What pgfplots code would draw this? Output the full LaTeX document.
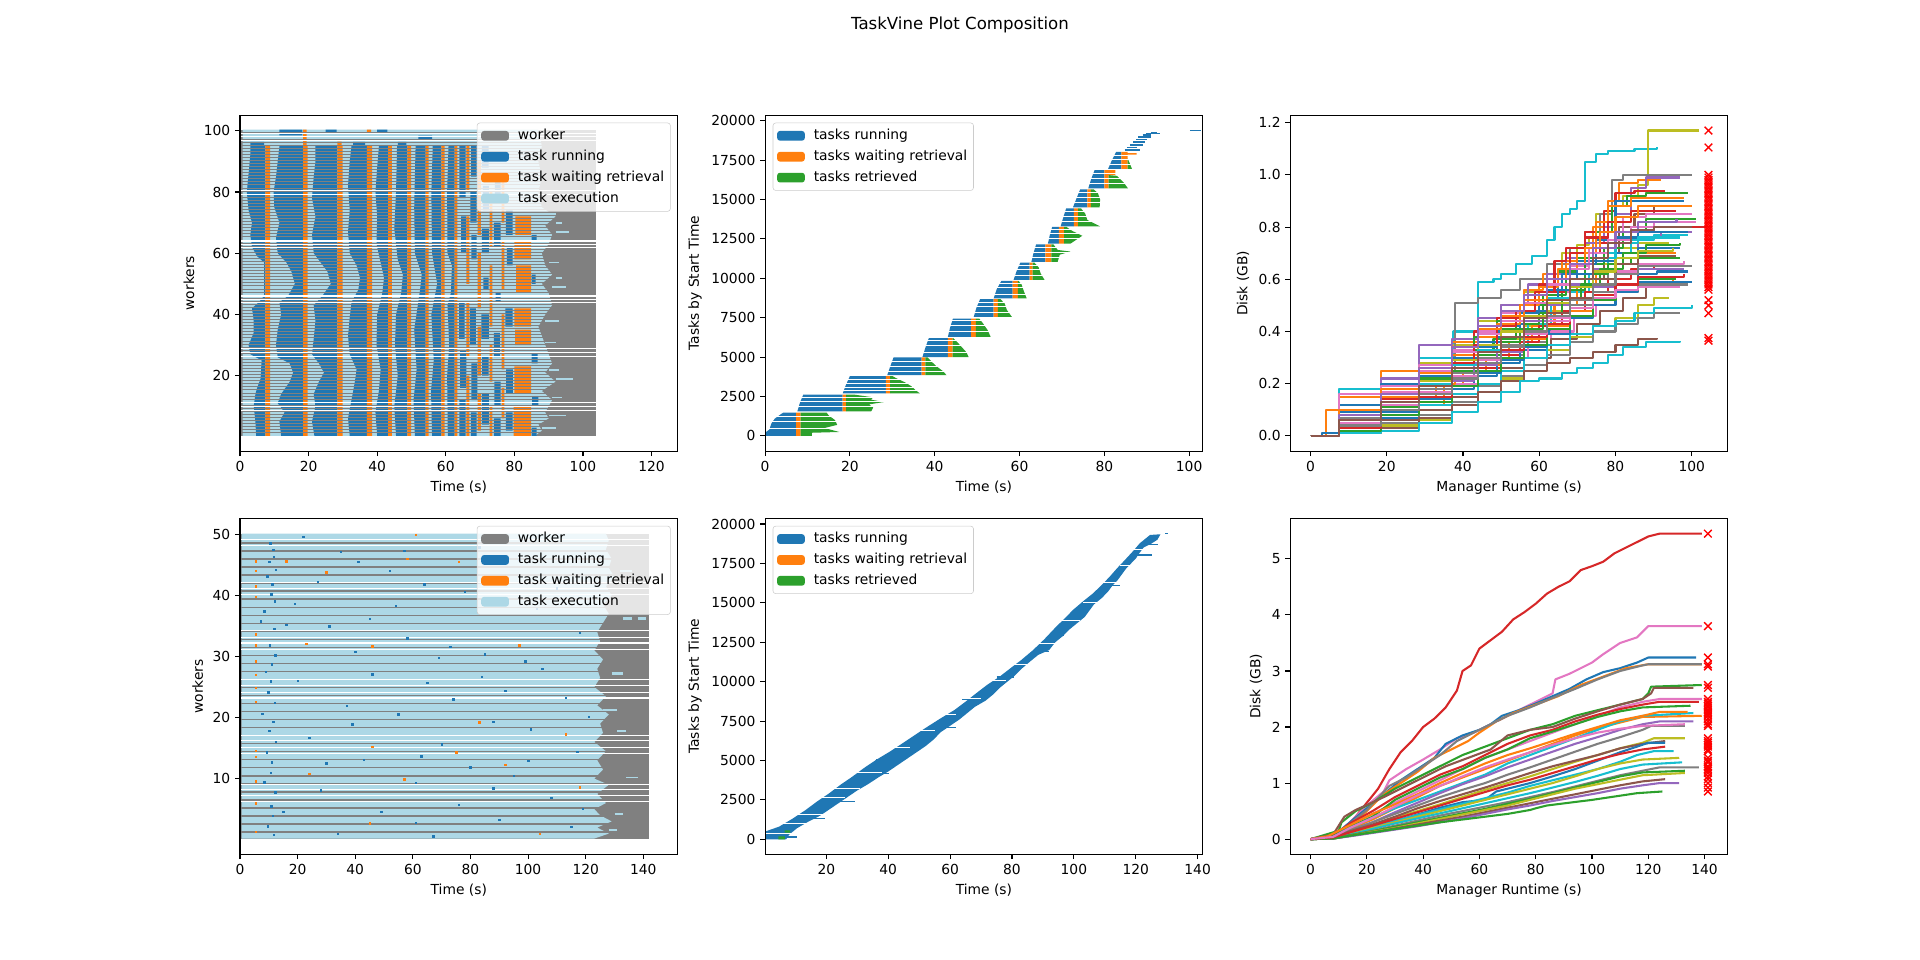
\documentclass[border=0pt]{standalone}
\usepackage{fontspec}
\setmainfont{DejaVu Sans}
\usepackage{pgfplots}
\pgfplotsset{compat=1.18}
\definecolor{C0}{HTML}{1F77B4}
\definecolor{C1}{HTML}{FF7F0E}
\definecolor{C2}{HTML}{2CA02C}
\definecolor{C3}{HTML}{D62728}
\definecolor{C4}{HTML}{9467BD}
\definecolor{C5}{HTML}{8C564B}
\definecolor{C6}{HTML}{E377C2}
\definecolor{C7}{HTML}{7F7F7F}
\definecolor{C8}{HTML}{BCBD22}
\definecolor{C9}{HTML}{17BECF}
\definecolor{wgrey}{HTML}{808080}
\definecolor{lblue}{HTML}{ADD8E6}
\pgfplotsset{
  every axis/.append style={
    scale only axis, width=4.376in, height=3.36in, anchor=south west,
    axis on top, tick align=outside, major tick length=3.5pt,
    xtick pos=lower, ytick pos=left,
    tick style={black, line width=0.8pt},
    axis line style={line width=0.8pt},
    tick label style={font=\fontsize{10}{12}\selectfont},
    label style={font=\fontsize{10}{12}\selectfont},
    /pgf/number format/assume math mode=true,
    /pgf/number format/1000 sep={},
    scaled ticks=false,
    unbounded coords=jump,
  },
  legend image code/.code={\path[#1, fill opacity=1] (0pt,-3.5pt) rectangle (20pt,3.5pt);},
  legend cell align=left,
  mpllegend/.style={legend style={draw=black!20, fill=white, fill opacity=0.8, text opacity=1, rounded corners=2pt, font=\fontsize{10}{12}\selectfont, inner xsep=3pt, inner ysep=3pt, row sep=2.5pt, nodes={inner sep=1.5pt, text height=7.6pt, text depth=2pt}, /tikz/every odd column/.append style={column sep=5pt}}},
  blk/.style={fill=#1, draw=none, forget plot},
  tl/.style={#1, line width=1.5pt, const plot, line join=round},
  bl/.style={#1, line width=1.5pt, line join=round},
  redx/.style={only marks, mark=x, mark size=3.9pt, draw=red, line width=1pt},
}
\begin{document}
\begin{tikzpicture}
\path[use as bounding box] (0in,0in) rectangle (19.2in,9.6in);
\node[font=\fontsize{12}{14}\selectfont] at (9.6in,9.355in) {TaskVine Plot Composition};

%================ TOP LEFT: workers ================
\begin{axis}[at={(2.4in,5.088in)}, xmin=0, xmax=127.6, ymin=-4.7, ymax=105.1,
  xtick={0,20,...,120}, ytick={20,40,...,100}, xlabel={Time (s)}, ylabel={workers},
  mpllegend, legend style={at={(1,1)}, anchor=north east, xshift=-5pt, yshift=-5.4pt}]
\addplot[blk=wgrey] coordinates {(0.05,0.3) (103.9,0.3) (103.9,100.4) (0.05,100.4)};
\addplot[blk=lblue] coordinates {(0.8,0.3) (86,0.3) (88,2) (87,4) (90,6) (89,8) (91,12) (88,15) (92,18) (89,21) (91,24) (90,27) (89,30) (88,33) (87,36) (89,40) (91,43) (90,47) (88,50) (91,53) (89,56) (88,60) (90,63) (91,66) (89,69) (92,72) (88,75) (87,80) (88,85) (87,90) (88,95) (87,100.4) (0.8,100.4)};
\addplot[draw=lblue, line width=1.6pt, forget plot] coordinates {(88,3) (92,3) (nan,nan) (90,7) (95,7) (nan,nan) (91,13) (94,13) (nan,nan) (92,19) (97,19) (nan,nan) (90,22) (93,22) (nan,nan) (89,31) (92,31) (nan,nan) (89,38) (93,38) (nan,nan) (90,45) (96,45) (nan,nan) (91,49) (95,49) (nan,nan) (92,52) (94,52) (nan,nan) (90,57) (93,57) (nan,nan) (91,64) (95,64) (nan,nan) (92,67) (96,67) (nan,nan) (92,70) (94,70) (nan,nan) (89,73) (92,73)};
% blue bands
\addplot[blk=C0] coordinates {(4.7,0.3) (4.5,5) (4.0,10) (4.5,14) (5.0,16) (6.0,19) (6.3,25) (3.0,27) (2.5,30) (4.0,34) (4.0,38) (3.5,42) (5.5,44) (7.0,46) (7.0,57) (5.0,59) (3.5,62) (3.0,66) (3.5,70) (2.5,74) (2.0,80) (2.5,86) (3.0,92) (3.0,95) (7.4,95) (7.4,0.3)
 (nan,nan) (12,0.3) (11.5,5) (13,8) (11,11) (12,14) (14.5,18) (15.5,21) (14.5,24) (11,26) (10.5,30) (11,35) (12,40) (11.5,44) (14,46) (16,50) (15,54) (13.5,57) (11,60) (10.5,65) (11.5,70) (10,75) (9.8,80) (10.5,85) (11,90) (11.5,95) (18.4,95) (18.4,0.3)
 (nan,nan) (21.7,0.3) (21,5) (22,10) (21.5,14) (23,18) (24.5,21) (23,24) (21,27) (21.5,32) (22,38) (21.5,43) (24,46) (26.5,50) (25.5,54) (23.5,57) (21.5,60) (21,66) (22,72) (21,78) (21.5,85) (22,90) (22,95) (28.4,95) (28.4,0.3)
 (nan,nan) (32,0.3) (31.5,6) (32.5,12) (33.5,18) (34,22) (32,27) (31.5,33) (32,39) (32.5,44) (34.5,48) (35,52) (34,56) (32,60) (31.5,67) (32,74) (31.5,82) (32,90) (32.5,95) (37,95) (37,0.3)
 (nan,nan) (40,0.3) (39.5,8) (40.5,15) (41,22) (39.8,30) (40,40) (41.5,47) (42,52) (41,57) (39.8,63) (40,72) (39.5,80) (40,88) (40.5,95) (43.2,95) (43.2,0.3)
 (nan,nan) (45.5,0.3) (45,10) (46,20) (45.2,30) (45.5,40) (47,47) (47.5,53) (46,58) (45,68) (45.5,80) (45.8,95) (48.8,95) (48.8,0.3)
 (nan,nan) (51,0.3) (50.6,12) (51.5,22) (50.8,35) (52.5,48) (53,53) (51,60) (50.8,75) (51.2,95) (54.1,95) (54.1,0.3)
 (nan,nan) (56,0.3) (55.7,15) (56.5,25) (55.8,40) (57.5,50) (56,60) (55.8,80) (56.2,95) (58.7,95) (58.7,0.3)
 (nan,nan) (60.6,0.3) (60.4,20) (61,30) (60.5,43) (61.5,47) (61.8,56) (60.5,60) (60.4,80) (60.8,95) (62.6,95) (62.6,0.3)};
% blue fragments
\addplot[blk=C0] coordinates {
 (64.0,0.3) (65.8,0.3) (65.8,12) (64.0,12) (nan,nan) (64.2,16) (66.0,16) (66.0,28) (64.2,28) (nan,nan) (63.9,32) (65.5,32) (65.5,44) (63.9,44) (nan,nan) (64.5,60) (66.0,60) (66.0,72) (64.5,72) (nan,nan) (64.0,78) (65.8,78) (65.8,95) (64.0,95) (nan,nan)
 (67.3,0.3) (69.0,0.3) (69.0,8) (67.3,8) (nan,nan) (67.5,12) (69.2,12) (69.2,24) (67.5,24) (nan,nan) (67.0,30) (68.8,30) (68.8,42) (67.0,42) (nan,nan) (67.5,58) (69.0,58) (69.0,66) (67.5,66) (nan,nan) (67.2,70) (69.0,70) (69.0,80) (67.2,80) (nan,nan) (67.4,85) (69.0,85) (69.0,95) (67.4,95) (nan,nan)
 (70.5,4) (72.6,4) (72.6,14) (70.5,14) (nan,nan) (70.6,20) (72.5,20) (72.5,26) (70.6,26) (nan,nan) (70.4,32) (72.6,32) (72.6,40) (70.4,40) (nan,nan) (71.0,48) (72.5,48) (72.5,52) (71.0,52) (nan,nan) (70.5,60) (72.6,60) (72.6,68) (70.5,68) (nan,nan) (70.8,74) (72.6,74) (72.6,82) (70.8,82) (nan,nan) (70.5,88) (72.5,88) (72.5,95) (70.5,95) (nan,nan)
 (74.0,0.3) (76.0,0.3) (76.0,6) (74.0,6) (nan,nan) (74.2,10) (76.0,10) (76.0,18) (74.2,18) (nan,nan) (74.0,26) (75.8,26) (75.8,34) (74.0,34) (nan,nan) (74.5,44) (76.0,44) (76.0,47) (74.5,47) (nan,nan) (74.0,62) (76.0,62) (76.0,70) (74.0,70) (nan,nan) (74.3,78) (76.0,78) (76.0,86) (74.3,86) (nan,nan)
 (77.5,2) (79.5,2) (79.5,8) (77.5,8) (nan,nan) (77.6,14) (79.6,14) (79.6,22) (77.6,22) (nan,nan) (77.4,36) (79.5,36) (79.5,42) (77.4,42) (nan,nan) (77.8,56) (79.5,56) (79.5,62) (77.8,62) (nan,nan) (77.5,66) (79.5,66) (79.5,74) (77.5,74) (nan,nan)
 (85.0,0.3) (86.5,0.3) (86.5,3) (85.0,3) (nan,nan) (85.2,10) (87.0,10) (87.0,13) (85.2,13) (nan,nan) (85.0,24) (86.8,24) (86.8,27) (85.0,27) (nan,nan) (85.0,50) (86.2,50) (86.2,53) (85.0,53) (nan,nan) (85.0,64) (86.5,64) (86.5,66) (85.0,66) (nan,nan)
 (11.5,98.5) (18.2,98.5) (18.2,100.4) (11.5,100.4) (nan,nan) (25,99.4) (28.2,99.4) (28.2,100.4) (25,100.4) (nan,nan) (40,99.4) (43,99.4) (43,100.4) (40,100.4) (nan,nan) (52,97.4) (56,97.4) (56,98.4) (52,98.4) (nan,nan) (33,95.4) (36.5,95.4) (36.5,96.4) (33,96.4) (nan,nan) (3,95.4) (7,95.4) (7,96.4) (3,96.4) (nan,nan) (46,95.4) (48.5,95.4) (48.5,96.4) (46,96.4)};
% orange
\addplot[blk=C1] coordinates {
 (7.4,0.3) (8.8,0.3) (8.8,95) (7.4,95) (nan,nan) (18.4,0.3) (19.7,0.3) (19.7,95) (18.4,95) (nan,nan) (28.4,0.3) (29.9,0.3) (29.9,95) (28.4,95) (nan,nan) (37.0,0.3) (38.5,0.3) (38.5,95) (37.0,95) (nan,nan) (43.2,0.3) (44.3,0.3) (44.3,95) (43.2,95) (nan,nan) (48.8,0.3) (49.9,0.3) (49.9,95) (48.8,95) (nan,nan) (54.1,0.3) (55.0,0.3) (55.0,95) (54.1,95) (nan,nan) (58.7,0.3) (59.7,0.3) (59.7,95) (58.7,95) (nan,nan) (62.6,0.3) (63.4,0.3) (63.4,95) (62.6,95) (nan,nan)
 (66.0,0.3) (66.9,0.3) (66.9,20) (66.0,20) (nan,nan) (66.0,26) (66.9,26) (66.9,44) (66.0,44) (nan,nan) (66.0,50) (66.9,50) (66.9,72) (66.0,72) (nan,nan) (66.0,80) (66.9,80) (66.9,95) (66.0,95) (nan,nan)
 (69.3,2) (70.2,2) (70.2,14) (69.3,14) (nan,nan) (69.3,20) (70.2,20) (70.2,36) (69.3,36) (nan,nan) (69.3,42) (70.2,42) (70.2,60) (69.3,60) (nan,nan) (69.3,66) (70.2,66) (70.2,90) (69.3,90) (nan,nan)
 (72.8,0.3) (73.6,0.3) (73.6,10) (72.8,10) (nan,nan) (72.8,18) (73.6,18) (73.6,30) (72.8,30) (nan,nan) (72.8,36) (73.6,36) (73.6,56) (72.8,56) (nan,nan) (72.8,62) (73.6,62) (73.6,80) (72.8,80) (nan,nan)
 (76.3,6) (77.1,6) (77.1,16) (76.3,16) (nan,nan) (76.3,22) (77.1,22) (77.1,40) (76.3,40) (nan,nan) (76.3,48) (77.1,48) (77.1,64) (76.3,64) (nan,nan) (76.3,70) (77.1,70) (77.1,86) (76.3,86) (nan,nan)
 (79.8,0.3) (84.9,0.3) (84.9,10) (79.8,10) (nan,nan) (80.0,14) (84.9,14) (84.9,23) (80.0,23) (nan,nan) (80.2,30) (84.9,30) (84.9,35) (80.2,35) (nan,nan) (80.0,36) (84.9,36) (84.9,42) (80.0,42) (nan,nan) (80.5,47) (84.9,47) (84.9,56) (80.5,56) (nan,nan) (80.0,58) (84.9,58) (84.9,64) (80.0,64) (nan,nan) (80.3,66) (84.9,66) (84.9,72) (80.3,72) (nan,nan)
 (18.4,95) (19.4,95) (19.4,100.4) (18.4,100.4) (nan,nan) (28.4,95) (29.6,95) (29.6,96.5) (28.4,96.5) (nan,nan) (37,99.4) (38.2,99.4) (38.2,100.4) (37,100.4)};
% row separators
\addplot[xcomb, draw=wgrey, line width=0.72pt, forget plot] coordinates {(103.9,1.3) (103.9,2.3) (103.9,3.3) (103.9,4.3) (103.9,5.3) (103.9,6.3) (103.9,7.3) (103.9,8.3) (103.9,9.3) (103.9,10.3) (103.9,11.3) (103.9,12.3) (103.9,13.3) (103.9,14.3) (103.9,15.3) (103.9,16.3) (103.9,17.3) (103.9,18.3) (103.9,19.3) (103.9,20.3) (103.9,21.3) (103.9,22.3) (103.9,23.3) (103.9,24.3) (103.9,25.3) (103.9,26.3) (103.9,27.3) (103.9,28.3) (103.9,29.3) (103.9,30.3) (103.9,31.3) (103.9,32.3) (103.9,33.3) (103.9,34.3) (103.9,35.3) (103.9,36.3) (103.9,37.3) (103.9,38.3) (103.9,39.3) (103.9,40.3) (103.9,41.3) (103.9,42.3) (103.9,43.3) (103.9,44.3) (103.9,45.3) (103.9,46.3) (103.9,47.3) (103.9,48.3) (103.9,49.3) (103.9,50.3) (103.9,51.3) (103.9,52.3) (103.9,53.3) (103.9,54.3) (103.9,55.3) (103.9,56.3) (103.9,57.3) (103.9,58.3) (103.9,59.3) (103.9,60.3) (103.9,61.3) (103.9,62.3) (103.9,63.3) (103.9,64.3) (103.9,65.3) (103.9,66.3) (103.9,67.3) (103.9,68.3) (103.9,69.3) (103.9,70.3) (103.9,71.3) (103.9,72.3) (103.9,73.3) (103.9,74.3) (103.9,75.3) (103.9,76.3) (103.9,77.3) (103.9,78.3) (103.9,79.3) (103.9,80.3) (103.9,81.3) (103.9,82.3) (103.9,83.3) (103.9,84.3) (103.9,85.3) (103.9,86.3) (103.9,87.3) (103.9,88.3) (103.9,89.3) (103.9,90.3) (103.9,91.3) (103.9,92.3) (103.9,93.3) (103.9,94.3) (103.9,95.3) (103.9,96.3) (103.9,97.3) (103.9,98.3) (103.9,99.3)};
\addplot[xcomb, draw=white, line width=0.8pt, forget plot] coordinates {(103.9,8.7) (103.9,10.0) (103.9,11.1) (103.9,26.3) (103.9,27.5) (103.9,28.9) (103.9,43.9) (103.9,44.9) (103.9,46.0) (103.9,61.8) (103.9,62.9) (103.9,64.0) (103.9,79.2) (103.9,80.6) (103.9,96.9) (103.9,98.0) (103.9,99.1)};
\addlegendimage{fill=wgrey, draw=none}\addlegendentry{worker}
\addlegendimage{fill=C0, draw=none}\addlegendentry{task running}
\addlegendimage{fill=C1, draw=none}\addlegendentry{task waiting retrieval}
\addlegendimage{fill=lblue, draw=none}\addlegendentry{task execution}
\end{axis}

%================ TOP MIDDLE: tasks ================
\begin{axis}[at={(7.651in,5.088in)}, xmin=0, xmax=103.2, ymin=-969, ymax=20350,
  xtick={0,20,...,100}, ytick={0,2500,5000,7500,10000,12500,15000,17500,20000},
  xlabel={Time (s)}, ylabel={Tasks by Start Time},
  mpllegend, legend style={at={(0,1)}, anchor=north west, xshift=5.5pt, yshift=-5.4pt}]
\addplot[blk=C0] coordinates {
 (0.2,0) (7.3,0) (7.3,1480) (4.3,1480) (3.3,1300) (2.3,1100) (1.5,800) (1.0,400) (0.2,250) (nan,nan)
 (7.6,1550) (18.3,1550) (18.3,2620) (9.0,2620) (8.2,2100) (nan,nan)
 (18.3,2700) (28.5,2700) (28.5,3800) (20.0,3800) (19.0,3200) (nan,nan)
 (28.8,3850) (36.9,3850) (36.9,4990) (30.3,4990) (29.5,4400) (nan,nan)
 (37.1,5000) (43.1,5000) (43.1,6200) (38.6,6200) (37.8,5600) (nan,nan)
 (43.1,6280) (48.6,6280) (48.6,7450) (44.3,7450) (43.6,6850) (nan,nan)
 (49.2,7550) (53.9,7550) (53.9,8680) (50.7,8680) (49.8,8100) (nan,nan)
 (53.9,8720) (58.4,8720) (58.4,9830) (55.7,9830) (54.6,9300) (nan,nan)
 (58.6,9900) (62.4,9900) (62.4,11000) (60.2,11000) (59.3,10450) (nan,nan)
 (62.8,11050) (66.1,11050) (66.1,12150) (63.9,12150) (63.3,11600) (nan,nan)
 (66.7,12200) (69.3,12200) (69.3,13270) (67.7,13270) (67.1,12700) (nan,nan)
 (69.7,13300) (72.8,13300) (72.8,14440) (71.0,14440) (70.3,13850) (nan,nan)
 (72.6,14500) (76.0,14500) (76.0,15640) (74.3,15640) (73.4,15050) (nan,nan)
 (76.2,15700) (80.0,15700) (80.0,16870) (77.7,16870) (76.9,16300) (nan,nan)
 (80.9,16950) (84.0,16950) (84.0,18030) (82.8,18030) (81.8,17500)};
\addplot[draw=C0, line width=1.1pt, forget plot] coordinates {(84.8,18150) (88.5,18150) (nan,nan) (85.3,18300) (87.8,18300) (nan,nan) (86,18450) (89,18450) (nan,nan) (86.8,18650) (89.5,18650) (nan,nan) (87.5,18800) (90,18800) (nan,nan) (88,18950) (91,18950) (nan,nan) (89,19100) (91,19100) (nan,nan) (89.8,19200) (93.1,19200) (nan,nan) (91,19260) (92.5,19260) (nan,nan) (100.2,19390) (102.7,19390)};
\addplot[blk=C1] coordinates {
 (7.3,0) (8.4,0) (8.4,1480) (7.3,1480) (nan,nan)
 (18.3,1550) (19.1,1550) (19.1,2620) (18.3,2620) (nan,nan)
 (28.5,2700) (29.5,2700) (29.5,3600) (30.2,3600) (30.2,3800) (28.5,3800) (nan,nan)
 (36.9,3850) (37.8,3850) (37.8,4990) (36.9,4990) (nan,nan)
 (43.1,5000) (44.2,5000) (44.2,6200) (43.1,6200) (nan,nan)
 (48.6,6280) (49.7,6280) (49.7,7450) (48.6,7450) (nan,nan)
 (53.9,7550) (54.9,7550) (54.9,8680) (53.9,8680) (nan,nan)
 (58.4,8720) (59.6,8720) (59.6,9830) (58.4,9830) (nan,nan)
 (62.4,9900) (63.1,9900) (63.1,11000) (62.4,11000) (nan,nan)
 (66.1,11050) (67.5,11050) (67.5,12150) (66.1,12150) (nan,nan)
 (69.3,12200) (70.5,12200) (70.5,13270) (69.3,13270) (nan,nan)
 (72.8,13300) (73.8,13300) (73.8,14440) (72.8,14440) (nan,nan)
 (76.0,14500) (76.8,14500) (76.8,15640) (76.0,15640) (nan,nan)
 (80.0,15700) (81.0,15700) (81.0,16550) (82.6,16550) (82.6,16870) (80.0,16870) (nan,nan)
 (84.0,16950) (85.5,16950) (85.5,17850) (87.6,17850) (87.6,17950) (85.5,17950) (85.5,18030) (84.0,18030)};
\addplot[blk=C2] coordinates {
 (8.4,0) (11,0) (11,200) (17.5,250) (14,500) (17,700) (16.5,1000) (15,1300) (14.5,1480) (8.4,1480) (nan,nan)
 (19.1,1550) (25,1550) (25.5,1800) (24.5,2000) (28,2150) (25,2300) (25.5,2450) (21,2620) (19.1,2620) (nan,nan)
 (29.5,2700) (36.5,2700) (35.5,2900) (34.5,3150) (33,3400) (31,3650) (30,3800) (29.5,3800) (nan,nan)
 (37.8,3850) (42.8,3850) (42,4100) (40.5,4400) (39.5,4650) (38.3,4990) (37.8,4990) (nan,nan)
 (44.2,5000) (48,5000) (47.5,5300) (46.5,5600) (45.5,5900) (44.4,6200) (44.2,6200) (nan,nan)
 (49.7,6280) (53.2,6280) (52.5,6700) (51.5,7100) (50.5,7450) (49.7,7450) (nan,nan)
 (54.9,7550) (58.2,7550) (57,8000) (56.5,8400) (55.5,8680) (54.9,8680) (nan,nan)
 (59.6,8720) (61.7,8720) (61,9200) (60.5,9600) (59.8,9830) (59.6,9830) (nan,nan)
 (63.1,9900) (65.9,9900) (65,10300) (64.5,10700) (63.5,11000) (63.1,11000) (nan,nan)
 (67.5,11050) (69,11050) (69.5,11500) (72,11700) (69,11800) (68,12150) (67.5,12150) (nan,nan)
 (70.5,12200) (72,12200) (74.8,12700) (72.5,13000) (71,13270) (70.5,13270) (nan,nan)
 (73.8,13300) (79,13300) (76,13700) (75.5,14100) (74.5,14440) (73.8,14440) (nan,nan)
 (76.8,14500) (78.9,14500) (79,15000) (78.5,15400) (77.5,15640) (76.8,15640) (nan,nan)
 (81,15700) (85.6,15700) (84.5,16100) (83,16500) (81,16550) (nan,nan)
 (85.5,16950) (86.5,16950) (86,17300) (85.5,17600)};
\addplot[draw=white, line width=0.6pt, forget plot] coordinates {
 (0,450) (18,450) (nan,nan) (0,900) (18,900) (nan,nan) (0,1250) (18,1250) (nan,nan)
 (7,1850) (29,1850) (nan,nan) (7,2165) (29,2165) (nan,nan) (7,2440) (29,2440) (nan,nan)
 (18,2875) (37,2875) (nan,nan) (18,3087) (37,3087) (nan,nan) (18,3340) (37,3340) (nan,nan) (18,3615) (37,3615) (nan,nan)
 (28,4123) (43,4123) (nan,nan) (28,4440) (43,4440) (nan,nan) (28,4715) (43,4715) (nan,nan)
 (37,5300) (48,5300) (nan,nan) (37,5729) (48,5729) (nan,nan) (37,6046) (48,6046) (nan,nan)
 (43,6600) (54,6600) (nan,nan) (43,7000) (54,7000) (nan,nan) (43,7300) (54,7300) (nan,nan)
 (49,7850) (59,7850) (nan,nan) (49,8200) (59,8200) (nan,nan) (49,8500) (59,8500) (nan,nan)
 (53,9000) (62,9000) (nan,nan) (53,9400) (62,9400) (nan,nan) (53,9650) (62,9650) (nan,nan)
 (58,10200) (66,10200) (nan,nan) (58,10550) (66,10550) (nan,nan) (58,10800) (66,10800) (nan,nan)
 (62,11300) (73,11300) (nan,nan) (62,11650) (73,11650) (nan,nan) (62,11950) (73,11950) (nan,nan)
 (66,12500) (75,12500) (nan,nan) (66,12850) (75,12850) (nan,nan) (66,13100) (75,13100) (nan,nan)
 (69,13600) (80,13600) (nan,nan) (69,13950) (80,13950) (nan,nan) (69,14250) (80,14250) (nan,nan)
 (72,14800) (80,14800) (nan,nan) (72,15150) (80,15150) (nan,nan) (72,15450) (80,15450) (nan,nan)
 (76,16000) (86,16000) (nan,nan) (76,16350) (86,16350) (nan,nan) (76,16650) (86,16650) (nan,nan)
 (80,17200) (88,17200) (nan,nan) (80,17550) (88,17550) (nan,nan) (80,17800) (88,17800)};
\addlegendimage{fill=C0, draw=none}\addlegendentry{tasks running}
\addlegendimage{fill=C1, draw=none}\addlegendentry{tasks waiting retrieval}
\addlegendimage{fill=C2, draw=none}\addlegendentry{tasks retrieved}
\end{axis}

%================ TOP RIGHT: disk ================
\begin{axis}[at={(12.903in,5.088in)}, xmin=-5.3, xmax=109.5, ymin=-0.0585, ymax=1.2287,
  xtick={0,20,...,100}, ytick={0,0.2,0.4,0.6,0.8,1.0,1.2},
  yticklabel style={/pgf/number format/.cd, fixed, fixed zerofill, precision=1},
  xlabel={Manager Runtime (s)}, ylabel={Disk (GB)}]
\addplot[tl=C9] coordinates {(0,0) (3,0.0) (7.5,0.18) (18.5,0.2) (28.5,0.3) (37.5,0.4) (44,0.59) (48,0.6) (50,0.62) (54,0.66) (58,0.69) (62,0.75) (64,0.8) (66,0.85) (68,0.87) (70,0.9) (72,1.05) (75,1.08) (78,1.09) (85,1.1) (91,1.105)};
\addplot[tl=C8] coordinates {(0,0) (7.5,0.02) (18.5,0.22) (28.5,0.28) (37,0.35) (44,0.44) (50,0.5) (56,0.55) (62,0.62) (66,0.7) (70,0.73) (73,0.76) (75,0.85) (78,0.88) (82,0.92) (86,0.96) (88.5,1.17) (102,1.17)};
\addplot[tl=C7] coordinates {(0,0) (7.5,0.05) (18.5,0.18) (28.5,0.25) (38,0.51) (44,0.53) (50,0.56) (55,0.6) (62,0.66) (68,0.72) (72,0.78) (76,0.85) (79,0.98) (82,1.0) (100,1.0)};
\addplot[tl=C1] coordinates {(0,0) (4,0.1) (7.5,0.15) (18.5,0.25) (28.5,0.27) (37,0.36) (44,0.4) (50,0.46) (56,0.56) (61,0.62) (66,0.67) (70,0.68) (74,0.8) (78,0.9) (81,0.97) (86,0.98) (92,0.98)};
\addplot[tl=C4] coordinates {(0,0) (7.5,0.06) (18.5,0.22) (28.5,0.35) (37,0.37) (44,0.45) (50,0.5) (57,0.58) (62,0.62) (67,0.68) (72,0.74) (77,0.8) (80,0.85) (84,0.95) (88,0.99) (97,0.99)};
\addplot[tl=C3] coordinates {(0,0) (7.5,0.08) (18.5,0.15) (28.5,0.2) (37,0.3) (43,0.4) (49,0.45) (55,0.5) (60,0.58) (64,0.67) (67,0.72) (72,0.78) (77,0.86) (80,0.93) (85,0.94) (93,0.94)};
\addplot[tl=C2] coordinates {(0,0) (7.5,0.1) (18.5,0.17) (28.5,0.22) (37,0.32) (43,0.38) (49,0.44) (55,0.5) (60,0.55) (65,0.63) (70,0.68) (75,0.78) (79,0.88) (83,0.92) (88,0.93) (99,0.93)};
\addplot[tl=C0] coordinates {(0,0) (3,0.01) (7.5,0.12) (18.5,0.2) (28.5,0.26) (37,0.33) (44,0.38) (50,0.42) (55,0.48) (60,0.55) (66,0.62) (70,0.67) (75,0.75) (80,0.9) (84,0.9) (98,0.9)};
\addplot[tl=C5] coordinates {(0,0) (7.5,0.04) (18.5,0.12) (28.5,0.17) (37,0.23) (43,0.3) (49,0.35) (55,0.4) (60,0.45) (66,0.52) (72,0.6) (77,0.7) (81,0.8) (85,0.85) (90,0.88) (97,0.88)};
\addplot[tl=C6] coordinates {(0,0) (7.5,0.16) (18.5,0.19) (28.5,0.27) (37,0.33) (44,0.4) (50,0.47) (56,0.5) (62,0.55) (68,0.65) (73,0.72) (78,0.78) (82,0.84) (88,0.85) (100,0.85)};
\addplot[tl=C7] coordinates {(0,0) (7.5,0.02) (18.5,0.1) (28.5,0.16) (37,0.2) (44,0.27) (50,0.31) (56,0.36) (62,0.45) (68,0.53) (72,0.6) (78,0.7) (84,0.78) (90,0.82) (98,0.82)};
\addplot[tl=C8] coordinates {(0,0) (7.5,0.03) (18.5,0.14) (28.5,0.19) (37,0.24) (44,0.3) (50,0.37) (56,0.42) (62,0.48) (68,0.58) (74,0.66) (80,0.72) (86,0.74) (94,0.74)};
\addplot[tl=C9] coordinates {(0,0) (7.5,0.07) (18.5,0.16) (28.5,0.2) (37,0.25) (43,0.3) (50,0.35) (57,0.43) (63,0.5) (68,0.55) (73,0.62) (78,0.7) (84,0.75) (90,0.77) (99,0.77)};
\addplot[tl=C1] coordinates {(0,0) (7.5,0.05) (18.5,0.1) (28.5,0.12) (35,0.2) (40,0.25) (46,0.3) (52,0.36) (58,0.42) (64,0.5) (70,0.58) (75,0.63) (80,0.66) (86,0.7) (96,0.7)};
\addplot[tl=C2] coordinates {(0,0) (7.5,0.09) (18.5,0.13) (28.5,0.18) (37,0.27) (43,0.33) (48,0.37) (54,0.43) (60,0.5) (66,0.56) (72,0.62) (78,0.66) (84,0.68) (97,0.68)};
\addplot[tl=C3] coordinates {(0,0) (7.5,0.04) (18.5,0.08) (28.5,0.13) (37,0.2) (44,0.26) (50,0.31) (55,0.36) (60,0.42) (66,0.48) (72,0.55) (78,0.6) (84,0.64) (90,0.65) (100,0.65)};
\addplot[tl=C0] coordinates {(0,0) (7.5,0.03) (18.5,0.07) (28.5,0.12) (37,0.18) (43,0.23) (49,0.28) (55,0.33) (62,0.4) (68,0.46) (74,0.53) (80,0.58) (86,0.62) (91,0.63) (99,0.63)};
\addplot[tl=C6] coordinates {(0,0) (7.5,0.06) (18.5,0.09) (28.5,0.14) (37,0.2) (44,0.25) (50,0.3) (57,0.35) (63,0.4) (69,0.46) (75,0.5) (80,0.55) (86,0.57) (97,0.57)};
\addplot[tl=C5] coordinates {(0,0) (7.5,0.02) (18.5,0.06) (28.5,0.1) (37,0.15) (44,0.2) (50,0.26) (56,0.3) (63,0.37) (70,0.43) (76,0.48) (82,0.53) (88,0.57) (96,0.58)};
\addplot[tl=C8] coordinates {(0,0) (7.5,0.02) (18.5,0.04) (28.5,0.06) (37,0.12) (44,0.17) (50,0.22) (56,0.27) (62,0.33) (68,0.38) (74,0.42) (80,0.45) (86,0.5) (90,0.53) (94,0.53)};
\addplot[tl=C7] coordinates {(0,0) (7.5,0.01) (18.5,0.05) (28.5,0.08) (37,0.13) (44,0.19) (50,0.23) (56,0.27) (62,0.31) (68,0.36) (74,0.4) (80,0.43) (86,0.45) (90,0.47) (97,0.47)};
\addplot[tl=C9] coordinates {(0,0) (7.5,0.04) (18.5,0.08) (28.5,0.12) (37,0.16) (44,0.2) (50,0.25) (56,0.3) (62,0.35) (68,0.39) (74,0.42) (80,0.44) (85,0.47) (90,0.49) (100,0.5)};
\addplot[tl=C5] coordinates {(0,0) (7.5,0.01) (18.5,0.03) (28.5,0.07) (37,0.12) (44,0.17) (50,0.21) (56,0.25) (62,0.28) (68,0.3) (74,0.32) (80,0.35) (86,0.37) (91,0.375)};
\addplot[tl=C9] coordinates {(0,0) (7.5,0.01) (18.5,0.02) (28.5,0.05) (37,0.09) (44,0.13) (50,0.17) (55,0.21) (60,0.22) (66,0.24) (70,0.26) (74,0.28) (78,0.31) (82,0.34) (88,0.36) (97,0.365)};
\addplot[tl=C3] coordinates {(0,0) (7.5,0.05) (18.5,0.12) (28.5,0.18) (37,0.26) (44,0.33) (50,0.4) (56,0.45) (62,0.55) (67,0.66) (70,0.7) (76,0.74) (80,0.78) (86,0.8) (104,0.8)};
\addplot[tl=C2] coordinates {(0,0) (7.5,0.07) (18.5,0.15) (28.5,0.22) (37,0.29) (43,0.35) (49,0.41) (55,0.47) (61,0.54) (67,0.6) (72,0.66) (77,0.72) (82,0.78) (88,0.83) (101,0.83)};
\addplot[tl=C4] coordinates {(0,0) (7.5,0.1) (18.5,0.14) (28.5,0.21) (37,0.28) (44,0.32) (50,0.38) (56,0.44) (62,0.5) (68,0.58) (74,0.64) (80,0.7) (86,0.76) (92,0.78) (100,0.78)};
\addplot[tl=C1] coordinates {(0,0) (7.5,0.03) (18.5,0.11) (28.5,0.14) (33,0.2) (38,0.23) (44,0.27) (50,0.32) (56,0.37) (62,0.42) (68,0.48) (74,0.53) (80,0.56) (86,0.59) (95,0.6)};
\addplot[tl=C0] coordinates {(0,0) (7.5,0.08) (18.5,0.16) (28.5,0.23) (37,0.3) (44,0.36) (50,0.43) (56,0.48) (62,0.56) (68,0.62) (74,0.67) (80,0.7) (86,0.72) (97,0.72)};
\addplot[tl=C6] coordinates {(0,0) (7.5,0.05) (18.5,0.11) (28.5,0.16) (37,0.22) (44,0.28) (50,0.33) (56,0.39) (62,0.45) (68,0.52) (74,0.58) (80,0.63) (86,0.66) (98,0.67)};
\addplot[tl=C0] coordinates {(0,0) (7.5,0.09) (18.5,0.13) (28.5,0.19) (37,0.27) (43,0.34) (49,0.4) (55,0.47) (60,0.52) (65,0.6) (70,0.66) (75,0.72) (80,0.76) (86,0.78) (99,0.78)};
\addplot[tl=C1] coordinates {(0,0) (7.5,0.06) (18.5,0.15) (28.5,0.24) (37,0.31) (44,0.38) (49,0.43) (55,0.5) (60,0.57) (65,0.64) (70,0.7) (75,0.82) (78,0.88) (84,0.91) (98,0.91)};
\addplot[tl=C2] coordinates {(0,0) (7.5,0.04) (18.5,0.11) (28.5,0.17) (37,0.25) (44,0.31) (50,0.36) (55,0.41) (61,0.47) (66,0.52) (71,0.58) (76,0.64) (82,0.7) (88,0.73) (97,0.74)};
\addplot[tl=C3] coordinates {(0,0) (7.5,0.07) (18.5,0.14) (28.5,0.2) (37,0.28) (43,0.35) (49,0.42) (54,0.48) (59,0.55) (64,0.6) (68,0.7) (72,0.76) (78,0.82) (84,0.86) (96,0.86)};
\addplot[tl=C4] coordinates {(0,0) (7.5,0.03) (18.5,0.09) (28.5,0.15) (37,0.21) (43,0.27) (49,0.32) (56,0.38) (62,0.44) (68,0.5) (74,0.57) (80,0.62) (86,0.64) (98,0.64)};
\addplot[tl=C5] coordinates {(0,0) (7.5,0.05) (18.5,0.1) (28.5,0.16) (37,0.22) (44,0.29) (50,0.34) (56,0.4) (62,0.47) (68,0.53) (74,0.6) (80,0.66) (86,0.69) (96,0.69)};
\addplot[tl=C6] coordinates {(0,0) (7.5,0.08) (18.5,0.17) (28.5,0.25) (37,0.32) (44,0.39) (50,0.44) (56,0.51) (62,0.58) (68,0.64) (73,0.7) (78,0.75) (84,0.8) (90,0.82) (101,0.82)};
\addplot[tl=C7] coordinates {(0,0) (7.5,0.07) (18.5,0.12) (28.5,0.18) (37,0.24) (44,0.3) (50,0.35) (56,0.4) (62,0.46) (68,0.5) (74,0.55) (80,0.58) (86,0.58) (99,0.58)};
\addplot[tl=C8] coordinates {(0,0) (7.5,0.05) (18.5,0.13) (28.5,0.21) (37,0.29) (44,0.35) (50,0.4) (56,0.46) (62,0.51) (68,0.57) (74,0.63) (80,0.68) (86,0.71) (95,0.72)};
\addplot[tl=C9] coordinates {(0,0) (7.5,0.06) (18.5,0.12) (28.5,0.2) (37,0.27) (44,0.33) (50,0.38) (56,0.45) (62,0.53) (68,0.6) (74,0.68) (80,0.74) (86,0.76) (97,0.76)};
\addplot[tl=C0] coordinates {(0,0) (7.5,0.04) (18.5,0.09) (28.5,0.14) (37,0.19) (44,0.24) (50,0.29) (56,0.34) (62,0.39) (68,0.45) (74,0.5) (80,0.55) (86,0.59) (100,0.59)};
\addplot[tl=C1] coordinates {(0,0) (7.5,0.1) (18.5,0.18) (28.5,0.26) (37,0.34) (44,0.41) (50,0.46) (56,0.52) (62,0.6) (67,0.66) (72,0.72) (76,0.78) (80,0.84) (86,0.88) (100,0.88)};
\addplot[tl=C2] coordinates {(0,0) (7.5,0.02) (18.5,0.08) (28.5,0.13) (37,0.19) (44,0.25) (50,0.3) (56,0.35) (62,0.41) (68,0.46) (74,0.52) (80,0.56) (86,0.6) (96,0.6)};
\addplot[tl=C3] coordinates {(0,0) (7.5,0.03) (18.5,0.1) (28.5,0.15) (37,0.22) (44,0.28) (50,0.33) (56,0.38) (62,0.43) (68,0.49) (74,0.54) (80,0.58) (86,0.61) (98,0.62)};
\addplot[tl=C6] coordinates {(0,0) (7.5,0.05) (18.5,0.12) (28.5,0.17) (37,0.23) (44,0.29) (50,0.34) (56,0.39) (62,0.44) (68,0.49) (74,0.53) (80,0.56) (86,0.57) (97,0.57)};
\addplot[tl=C4] coordinates {(0,0) (7.5,0.08) (18.5,0.16) (28.5,0.26) (37,0.34) (44,0.42) (50,0.48) (56,0.54) (62,0.6) (68,0.66) (74,0.72) (80,0.78) (86,0.82) (96,0.83)};
\addplot[tl=C7] coordinates {(0,0) (7.5,0.04) (18.5,0.1) (28.5,0.16) (37,0.22) (44,0.28) (50,0.34) (56,0.4) (62,0.46) (68,0.52) (74,0.58) (80,0.62) (86,0.65) (100,0.65)};
\addplot[tl=C5] coordinates {(0,0) (7.5,0.06) (18.5,0.13) (28.5,0.19) (37,0.26) (44,0.32) (50,0.38) (56,0.45) (62,0.52) (68,0.6) (74,0.68) (78,0.74) (84,0.79) (90,0.8) (100,0.8)};
\addplot[redx] coordinates {(104.4,1.17) (104.4,1.105) (104.4,1.0) (104.4,0.99) (104.4,0.98) (104.4,0.97) (104.4,0.96) (104.4,0.95) (104.4,0.94) (104.4,0.93) (104.4,0.92) (104.4,0.91) (104.4,0.9) (104.4,0.89) (104.4,0.88) (104.4,0.87) (104.4,0.86) (104.4,0.85) (104.4,0.84) (104.4,0.83) (104.4,0.82) (104.4,0.81) (104.4,0.8) (104.4,0.79) (104.4,0.78) (104.4,0.77) (104.4,0.76) (104.4,0.75) (104.4,0.74) (104.4,0.73) (104.4,0.72) (104.4,0.71) (104.4,0.7) (104.4,0.69) (104.4,0.68) (104.4,0.67) (104.4,0.66) (104.4,0.65) (104.4,0.64) (104.4,0.63) (104.4,0.62) (104.4,0.61) (104.4,0.6) (104.4,0.59) (104.4,0.58) (104.4,0.57) (104.4,0.56) (104.4,0.52) (104.4,0.5) (104.4,0.47) (104.4,0.375) (104.4,0.365)};
\end{axis}

%================ BOTTOM LEFT: workers ================
\begin{axis}[at={(2.4in,1.056in)}, xmin=0, xmax=151.9, ymin=-2.4, ymax=52.6,
  xtick={0,20,...,140}, ytick={10,20,...,50}, xlabel={Time (s)}, ylabel={workers},
  mpllegend, legend style={at={(1,1)}, anchor=north east, xshift=-5pt, yshift=-5.4pt}]
\addplot[blk=wgrey] coordinates {(0.05,0.2) (142,0.2) (142,50.1) (0.05,50.1)};
\addplot[blk=lblue] coordinates {(0.6,0.2) (123,0.2) (128,1) (124,2) (129,3) (125,4) (123,5) (127,6) (124,7.5) (128,9) (123,10) (126,11.5) (124,13) (127,14.5) (123,16) (126,17.5) (125,19) (128,20.5) (124,22) (127,23.5) (123,25) (125,26.5) (124,28) (126,29.5) (123,31) (125,32.5) (124,34) (126,35.5) (128,37) (126,38.5) (129,40) (127,41.5) (130,43) (128,44.5) (129,46) (127,47.5) (128,49) (127,50.1) (0.6,50.1)};
\addplot[draw=lblue, line width=1.6pt, forget plot] coordinates {(133,36.2) (136,36.2) (nan,nan) (138,36.2) (141,36.2) (nan,nan) (129,27.2) (133,27.2) (nan,nan) (126,21.2) (131,21.2) (nan,nan) (134,10.3) (138,10.3) (nan,nan) (130,4.2) (133,4.2) (nan,nan) (128,1.6) (131,1.6) (nan,nan) (131,17.8) (134,17.8) (nan,nan) (132,44) (136,44)};
\addplot[xcomb, draw=wgrey, line width=1.4pt, forget plot] coordinates {(142,48.5) (142,47.19) (142,45.88) (142,44.57) (142,43.26) (142,41.95) (142,40.64) (142,39.33) (142,38.02) (142,36.71) (142,35.4) (142,34.09) (142,32.78) (142,31.47) (142,30.16) (142,28.85) (142,27.54) (142,26.23) (142,24.92) (142,23.61) (142,22.3) (142,20.99) (142,19.68) (142,18.37) (142,17.06) (142,15.75) (142,14.44) (142,13.13) (142,11.82) (142,10.51) (142,9.2) (142,7.89) (142,6.58) (142,5.27) (142,3.96) (142,2.65) (142,1.34)};
\addplot[xcomb, draw=white, line width=0.85pt, forget plot] coordinates {(142,49.2) (142,48.2) (142,42.1) (142,41.1) (142,40.2) (142,34.2) (142,33.1) (142,32.2) (142,31.2) (142,26.2) (142,25.2) (142,24.1) (142,23.2) (142,17.1) (142,16.2) (142,15.1) (142,14.1) (142,9.1) (142,8.2) (142,7.2) (142,6.2)};
\addplot[only marks, mark=square*, mark size=0.55pt, C0, forget plot] coordinates {(10.5,48.5) (11.5,47.5) (11.8,46.3) (10.2,45.5) (12.5,44.2) (9.5,43.1) (11.2,41.8) (10.8,40.2) (12.1,39.0) (8.5,37.4) (7.2,35.8) (11.9,34.5) (10.4,31.8) (12.3,30.2) (11.1,28.7) (8.9,27.5) (10.6,25.9) (9.8,24.1) (12.0,22.4) (7.8,20.6) (11.5,19.3) (10.1,17.8) (12.4,16.0) (9.3,14.3) (11.0,12.7) (10.7,11.0) (8.4,9.4) (12.2,7.8) (10.9,5.5) (11.3,3.9) (9.6,2.2) (11.8,0.8) (22,49.6) (35,47.1) (41,45.5) (52,44.0) (27,42.2) (64,41.8) (78,40.6) (19,38.6) (45,36.2) (31,34.9) (58,33.0) (73,31.6) (85,30.4) (99,29.2) (105,28.0) (46,27.1) (65,25.7) (92,24.4) (113,23.2) (37,21.9) (55,20.5) (88,19.3) (101,18.1) (24,16.7) (70,15.6) (117,14.4) (43,13.1) (80,11.9) (95,10.5) (61,9.3) (28,8.1) (108,6.9) (76,5.7) (49,4.6) (90,3.3) (115,2.1) (34,1.0) (67,0.6) (103,37.8) (118,33.9) (97,45.8) (83,47.9) (54,38.3) (40,30.8) (20,26.0) (121,20.1) (88,8.4) (61,2.8) (30,12.5) (74,23.0) (16,35.2) (57,47.3) (69,29.8) (110,41.2) (84,26.7) (39,18.9) (63,13.7) (100,12.9) (119,5.1) (15,4.6)};
\addplot[only marks, mark=square*, mark size=0.55pt, C1, forget plot] coordinates {(5.5,45.6) (5.4,44.0) (5.5,41.5) (5.4,39.8) (5.5,33.6) (5.5,31.8) (5.4,29.2) (5.5,27.0) (5.4,24.9) (5.5,22.6) (5.5,14.6) (5.4,13.6) (5.5,9.6) (5.4,6.0) (5.5,1.3) (30,43.8) (61,49.9) (46,31.7) (58,46.0) (76,45.5) (97,31.8) (113,17.3) (83,19.2) (23,32.1) (46,15.2) (75,14.3) (92,12.3) (24,10.8) (57,9.9) (118,8.6) (16,45.6) (45,2.7) (104,1.0)};
\addlegendimage{fill=wgrey, draw=none}\addlegendentry{worker}
\addlegendimage{fill=C0, draw=none}\addlegendentry{task running}
\addlegendimage{fill=C1, draw=none}\addlegendentry{task waiting retrieval}
\addlegendimage{fill=lblue, draw=none}\addlegendentry{task execution}
\end{axis}

%================ BOTTOM MIDDLE: tasks ================
\begin{axis}[at={(7.651in,1.056in)}, xmin=0.2, xmax=141.65, ymin=-958, ymax=20355,
  xtick={20,40,...,140}, ytick={0,2500,5000,7500,10000,12500,15000,17500,20000},
  xlabel={Time (s)}, ylabel={Tasks by Start Time},
  mpllegend, legend style={at={(0,1)}, anchor=north west, xshift=5.5pt, yshift=-5.4pt}]
\addplot[blk=C0] coordinates {(0.3,0) (0.3,500) (4.7,800) (9,1300) (13.3,1858) (17,2400) (20.9,2916) (24.5,3450) (28.4,3973) (32,4500) (36,5030) (40.5,5560) (44.6,6088) (48.5,6600) (52.7,7145) (57,7680) (61.4,8202) (65,8730) (68.4,9259) (72,9800) (76,10317) (79.5,10850) (83,11374) (86.8,12000) (90.5,12700) (94.3,13489) (97,14000) (99.7,14546) (103,15100) (106.2,15603) (109,16130) (111.6,16661) (114,17200) (116.5,17718) (119,18250) (121.3,18775) (124.6,19304) (128,19350) (127,19000) (125,18750) (122.5,18500) (121,18100) (120,17800) (118.5,17500) (117,17200) (115.5,16800) (114,16400) (112.5,16100) (111,15700) (109,15300) (106.5,14900) (105,14500) (103.5,14100) (101,13700) (98.5,13300) (96.5,12900) (94,12500) (92,12000) (88.5,11700) (86,11300) (83,10800) (81,10400) (78.5,10000) (76,9600) (74,9200) (71.5,8800) (68,8400) (65.5,8000) (63,7600) (60,7200) (57,6800) (54.5,6300) (52,5900) (49,5500) (46,5100) (43,4700) (40,4300) (37,3950) (33.5,3500) (30,3100) (27,2700) (24,2300) (21,1900) (18,1500) (14,1100) (10.5,700) (8,300) (7,0)};
\addplot[draw=C0, line width=1pt, forget plot] coordinates {(13.5,1330) (19.6,1330) (nan,nan) (21,2385) (29.2,2385) (nan,nan) (30,4186) (40.3,4186) (nan,nan) (42,5600) (48,5600) (nan,nan) (52.5,7104) (61.9,7104) (nan,nan) (64,8900) (71,8900) (nan,nan) (75,10300) (80.5,10300) (nan,nan) (86.6,11924) (91.9,11924) (nan,nan) (91.6,12917) (96.7,12917) (nan,nan) (110.5,16110) (114.8,16110) (nan,nan) (118.5,18032) (125.1,18032) (nan,nan) (121.5,18711) (127.3,18711) (nan,nan) (36,5030) (43,5030) (nan,nan) (0.3,150) (10.5,150) (nan,nan) (129.6,19380) (130.3,19380)};
\addplot[blk=C2] coordinates {(4.5,0) (6.6,0) (6.6,180) (4.5,180) (nan,nan) (6.5,420) (8.3,420) (8.3,560) (6.5,560)};
\addplot[draw=white, line width=0.6pt, forget plot] coordinates {(0,350) (12,350) (nan,nan) (3,1000) (16,1000) (nan,nan) (10,1600) (20,1600) (nan,nan) (16,2650) (26,2650) (nan,nan) (22,3200) (31,3200) (nan,nan) (29,4250) (38,4250) (nan,nan) (38,5800) (47,5800) (nan,nan) (46,6900) (55,6900) (nan,nan) (54,7900) (62,7900) (nan,nan) (62,8950) (70,8950) (nan,nan) (70,10050) (78,10050) (nan,nan) (78,11100) (85,11100) (nan,nan) (88,12400) (95,12400) (nan,nan) (96,13900) (102,13900) (nan,nan) (103,15000) (109,15000) (nan,nan) (109,16300) (115,16300) (nan,nan) (115,17400) (120,17400) (nan,nan) (119,18400) (124,18400)};
\addlegendimage{fill=C0, draw=none}\addlegendentry{tasks running}
\addlegendimage{fill=C1, draw=none}\addlegendentry{tasks waiting retrieval}
\addlegendimage{fill=C2, draw=none}\addlegendentry{tasks retrieved}
\end{axis}

%================ BOTTOM RIGHT: disk ================
\begin{axis}[at={(12.903in,1.056in)}, xmin=-7.2, xmax=148.3, ymin=-0.2725, ymax=5.7225,
  xtick={0,20,...,140}, ytick={0,1,2,3,4,5},
  xlabel={Manager Runtime (s)}, ylabel={Disk (GB)}]
\addplot[bl=C3] coordinates {(0,0) (5,0.02) (8,0.08) (12,0.2) (16,0.4) (20,0.65) (24,0.9) (28,1.25) (32,1.55) (36,1.75) (40,2.0) (44,2.15) (48,2.35) (52,2.65) (54,3.0) (57,3.1) (60,3.4) (64,3.55) (68,3.7) (72,3.92) (76,4.05) (80,4.2) (84,4.38) (88,4.5) (92,4.6) (96,4.8) (100,4.87) (104,4.95) (108,5.1) (112,5.2) (116,5.3) (120,5.4) (124,5.45) (139,5.45)};
\addplot[bl=C6] coordinates {(0,0) (8,0.05) (14,0.3) (20,0.6) (26,0.85) (28,1.05) (34,1.25) (40,1.42) (46,1.6) (52,1.8) (58,1.9) (64,2.05) (70,2.2) (76,2.35) (82,2.5) (86,2.6) (87,2.85) (92,2.95) (96,3.05) (100,3.15) (104,3.3) (110,3.5) (116,3.6) (120,3.8) (139,3.8)};
\addplot[bl=C0] coordinates {(0,0) (8,0.05) (14,0.3) (20,0.55) (26,0.8) (32,1.05) (38,1.25) (44,1.45) (48,1.7) (54,1.85) (60,1.95) (64,2.05) (68,2.2) (74,2.3) (80,2.42) (86,2.55) (92,2.68) (98,2.85) (104,2.98) (110,3.05) (116,3.15) (120,3.24) (137,3.24)};
\addplot[bl=C1] coordinates {(0,0) (8,0.04) (14,0.25) (20,0.5) (26,0.8) (32,1.0) (38,1.2) (44,1.45) (50,1.6) (56,1.75) (60,1.9) (66,2.1) (72,2.25) (80,2.4) (88,2.55) (96,2.75) (104,2.9) (112,3.05) (120,3.12) (139,3.12)};
\addplot[bl=C7] coordinates {(0,0) (8,0.04) (14,0.28) (20,0.52) (28,0.95) (34,1.1) (40,1.3) (46,1.5) (52,1.75) (58,1.9) (64,2.05) (70,2.2) (78,2.35) (86,2.52) (94,2.68) (102,2.85) (110,3.0) (118,3.1) (120,3.12) (139,3.12)};
\addplot[bl=C2] coordinates {(0,0) (10,0.15) (11,0.3) (16,0.5) (22,0.65) (30,0.9) (38,1.1) (46,1.3) (54,1.5) (62,1.65) (70,1.8) (78,1.95) (86,2.05) (94,2.2) (102,2.3) (110,2.4) (118,2.5) (120,2.6) (121,2.72) (139,2.75)};
\addplot[bl=C5] coordinates {(0,0) (8,0.08) (12,0.4) (16,0.52) (24,0.7) (32,0.9) (40,1.1) (48,1.3) (56,1.45) (64,1.6) (70,1.85) (78,1.95) (86,2.0) (94,2.15) (102,2.28) (110,2.4) (118,2.5) (121,2.6) (122,2.7) (136,2.7)};
\addplot[bl=C6] coordinates {(0,0) (8,0.05) (14,0.25) (22,0.45) (30,0.65) (38,0.85) (46,1.05) (54,1.25) (62,1.45) (70,1.6) (78,1.75) (86,1.9) (94,2.05) (102,2.2) (110,2.35) (118,2.45) (124,2.5) (139,2.5)};
\addplot[bl=C3] coordinates {(0,0) (8,0.06) (14,0.28) (22,0.5) (30,0.75) (38,0.95) (46,1.15) (54,1.3) (62,1.5) (70,1.7) (78,1.85) (86,1.95) (94,2.1) (102,2.22) (110,2.32) (118,2.4) (124,2.45) (138,2.45)};
\addplot[bl=C2] coordinates {(0,0) (8,0.05) (14,0.22) (22,0.4) (30,0.7) (38,0.9) (46,1.1) (54,1.25) (62,1.45) (70,1.6) (78,1.8) (86,1.92) (94,2.05) (102,2.18) (110,2.28) (118,2.35) (135,2.38)};
\addplot[bl=C1] coordinates {(0,0) (8,0.04) (14,0.18) (22,0.35) (30,0.55) (38,0.75) (46,0.95) (54,1.1) (62,1.25) (70,1.4) (78,1.55) (86,1.7) (94,1.85) (102,1.98) (110,2.08) (118,2.18) (139,2.2)};
\addplot[bl=C9] coordinates {(0,0) (8,0.04) (14,0.2) (22,0.38) (30,0.55) (38,0.7) (46,0.85) (54,1.0) (62,1.15) (70,1.35) (78,1.5) (86,1.65) (94,1.8) (102,1.95) (110,2.1) (118,2.2) (136,2.25)};
\addplot[bl=C4] coordinates {(0,0) (8,0.03) (14,0.15) (22,0.3) (30,0.48) (38,0.65) (46,0.82) (54,0.98) (62,1.12) (70,1.28) (78,1.42) (86,1.56) (94,1.7) (102,1.82) (110,1.95) (118,2.05) (124,2.1) (136,2.1)};
\addplot[bl=C7] coordinates {(0,0) (8,0.03) (14,0.16) (22,0.3) (30,0.45) (38,0.6) (46,0.75) (54,0.88) (62,1.0) (70,1.15) (78,1.28) (86,1.42) (94,1.56) (102,1.7) (110,1.82) (118,1.95) (121,2.02) (133,2.02)};
\addplot[bl=C8] coordinates {(0,0) (8,0.02) (14,0.12) (22,0.25) (30,0.38) (38,0.5) (46,0.62) (54,0.75) (62,0.88) (70,1.0) (78,1.12) (86,1.25) (94,1.38) (102,1.5) (110,1.62) (118,1.72) (122,1.8) (133,1.8)};
\addplot[bl=C5] coordinates {(0,0) (8,0.03) (14,0.14) (22,0.26) (30,0.4) (38,0.55) (46,0.68) (54,0.8) (62,0.92) (70,1.05) (78,1.18) (86,1.3) (94,1.4) (102,1.5) (110,1.62) (118,1.7) (126,1.75)};
\addplot[bl=C0] coordinates {(0,0) (8,0.02) (14,0.1) (22,0.2) (30,0.32) (38,0.44) (46,0.56) (54,0.66) (62,0.7) (66,0.85) (70,0.9) (78,1.0) (86,1.12) (94,1.25) (102,1.4) (110,1.55) (116,1.65) (120,1.72) (126,1.72)};
\addplot[bl=C9] coordinates {(0,0) (8,0.02) (14,0.1) (22,0.22) (30,0.33) (38,0.43) (46,0.53) (54,0.63) (62,0.73) (70,0.83) (78,0.95) (86,1.05) (94,1.15) (102,1.25) (110,1.38) (116,1.5) (122,1.57) (129,1.57)};
\addplot[bl=C8] coordinates {(0,0) (8,0.02) (14,0.1) (22,0.2) (30,0.3) (38,0.4) (46,0.5) (54,0.6) (62,0.7) (70,0.8) (78,0.9) (86,1.0) (94,1.12) (102,1.25) (110,1.35) (118,1.42) (131,1.45)};
\addplot[bl=C9] coordinates {(0,0) (8,0.02) (14,0.08) (22,0.18) (30,0.28) (38,0.37) (46,0.46) (54,0.55) (62,0.64) (70,0.73) (78,0.82) (86,0.92) (94,1.02) (102,1.13) (110,1.25) (118,1.33) (132,1.37)};
\addplot[bl=C7] coordinates {(0,0) (8,0.02) (14,0.07) (22,0.15) (30,0.24) (38,0.33) (46,0.42) (54,0.5) (62,0.58) (70,0.66) (78,0.75) (86,0.84) (94,0.94) (102,1.04) (110,1.14) (118,1.22) (124,1.28) (138,1.28)};
\addplot[bl=C2] coordinates {(0,0) (8,0.01) (14,0.07) (22,0.14) (30,0.22) (38,0.3) (46,0.38) (54,0.46) (62,0.54) (70,0.63) (78,0.72) (86,0.82) (94,0.92) (102,1.02) (110,1.12) (118,1.19) (133,1.22)};
\addplot[bl=C8] coordinates {(0,0) (8,0.01) (14,0.06) (22,0.13) (30,0.2) (38,0.28) (46,0.36) (54,0.44) (62,0.52) (70,0.6) (78,0.7) (86,0.8) (94,0.9) (102,0.98) (110,1.06) (118,1.14) (133,1.18)};
\addplot[bl=C5] coordinates {(0,0) (8,0.01) (14,0.06) (22,0.12) (30,0.19) (38,0.26) (46,0.33) (54,0.4) (62,0.48) (70,0.56) (78,0.64) (86,0.72) (94,0.8) (102,0.88) (110,0.96) (118,1.03) (126,1.07)};
\addplot[bl=C4] coordinates {(0,0) (8,0.01) (14,0.05) (22,0.11) (30,0.17) (38,0.23) (46,0.3) (54,0.37) (62,0.45) (70,0.53) (78,0.6) (86,0.68) (94,0.75) (102,0.82) (110,0.9) (118,0.96) (124,1.0) (131,1.0)};
\addplot[bl=C2] coordinates {(0,0) (8,0.01) (14,0.06) (22,0.12) (30,0.18) (38,0.24) (46,0.3) (54,0.35) (62,0.4) (70,0.45) (78,0.52) (80,0.55) (84,0.6) (92,0.65) (100,0.7) (108,0.76) (116,0.82) (125,0.85)};
\addplot[bl=C1] coordinates {(0,0) (6,0.05) (10,0.15) (16,0.3) (22,0.45) (30,0.62) (38,0.8) (46,1.0) (54,1.18) (62,1.35) (70,1.5) (78,1.62) (86,1.75) (94,1.88) (102,2.0) (110,2.12) (118,2.2) (124,2.27) (134,2.27)};
\addplot[bl=C3] coordinates {(0,0) (8,0.03) (14,0.12) (22,0.24) (30,0.36) (38,0.48) (46,0.6) (54,0.72) (62,0.84) (70,0.96) (78,1.06) (86,1.18) (94,1.3) (102,1.42) (110,1.52) (118,1.6) (126,1.65)};
\addplot[bl=C6] coordinates {(0,0) (8,0.04) (14,0.2) (22,0.38) (30,0.58) (38,0.78) (46,0.95) (54,1.12) (62,1.28) (70,1.42) (78,1.55) (86,1.68) (94,1.8) (102,1.9) (110,1.97) (118,2.02) (133,2.05)};
\addplot[redx] coordinates {(141.2,5.45) (141.2,3.8) (141.2,3.24) (141.2,3.12) (141.2,3.08) (141.2,2.75) (141.2,2.7) (141.2,2.5) (141.2,2.45) (141.2,2.42) (141.2,2.38) (141.2,2.35) (141.2,2.3) (141.2,2.27) (141.2,2.25) (141.2,2.22) (141.2,2.2) (141.2,2.15) (141.2,2.1) (141.2,2.05) (141.2,2.02) (141.2,1.8) (141.2,1.75) (141.2,1.72) (141.2,1.68) (141.2,1.65) (141.2,1.6) (141.2,1.57) (141.2,1.45) (141.2,1.4) (141.2,1.37) (141.2,1.3) (141.2,1.28) (141.2,1.25) (141.2,1.22) (141.2,1.18) (141.2,1.12) (141.2,1.07) (141.2,1.0) (141.2,0.92) (141.2,0.85)};
\end{axis}
\end{tikzpicture}
\end{document}
